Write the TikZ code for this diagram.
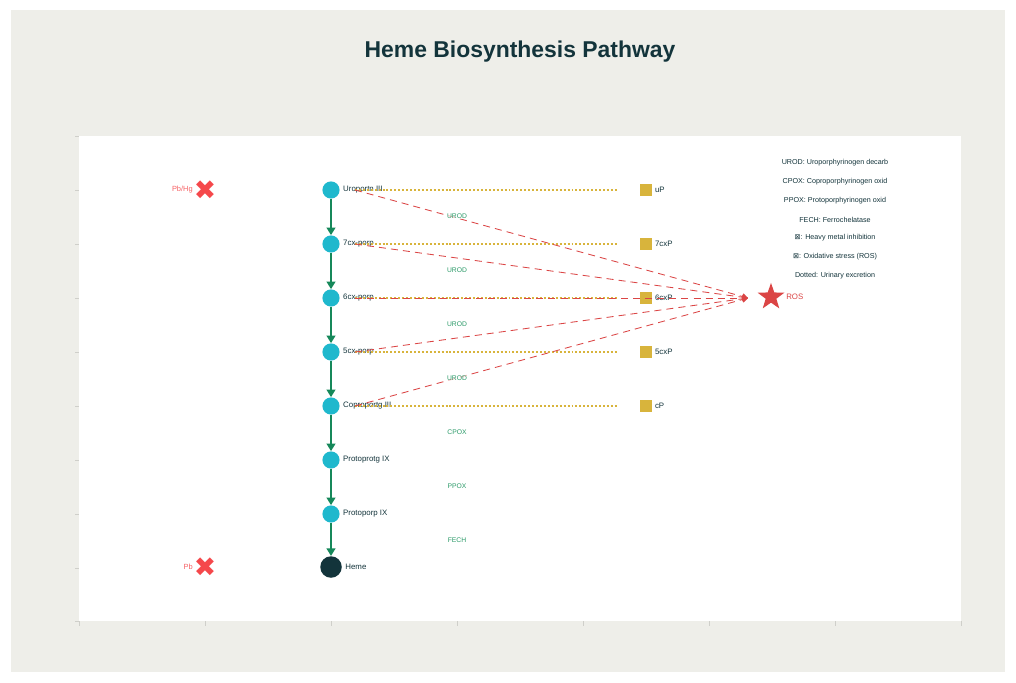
\documentclass[tikz,border=0pt]{standalone}
\usepackage{fontspec}
\setmainfont{Liberation Sans}
\newfontfamily\symfont{DejaVu Sans}
\usetikzlibrary{arrows.meta, calc, shapes.geometric}

\definecolor{inkdark}{HTML}{13343B}
\definecolor{panelgray}{HTML}{EEEEE9}
\definecolor{porcyan}{HTML}{1FB8CD}
\definecolor{stepgreen}{HTML}{16885A}
\definecolor{enzgreen}{HTML}{2A9A68}
\definecolor{excyellow}{HTML}{D8B43C}
\definecolor{rosred}{HTML}{DB4545}
\definecolor{metalred}{HTML}{F5484B}
\definecolor{tickgray}{HTML}{CFCFCA}

\tikzset{
  porph/.style={circle, fill=porcyan, minimum size=12.2pt, inner sep=0pt},
  hemenode/.style={circle, fill=inkdark, minimum size=15.3pt, inner sep=0pt},
  porphlabel/.style={text=inkdark, font=\fontsize{5.6}{6}\selectfont, inner sep=0pt},
  enzyme/.style={text=enzgreen, font=\fontsize{4.8}{5}\selectfont, inner sep=0.6pt,
    fill=white, fill opacity=0.6, text opacity=1},
  stepline/.style={draw=stepgreen, line width=1.5pt, -{Triangle[length=5.4pt,width=6.2pt]}},
  excretion/.style={draw=excyellow, line width=1pt, dash pattern=on 1.4pt off 1.4pt},
  rosline/.style={draw=rosred, line width=0.6pt, dash pattern=on 5pt off 3.6pt,
    -{Triangle[length=4pt,width=4.4pt]}},
  urinebox/.style={rectangle, fill=excyellow, minimum size=9.2pt, inner sep=0pt},
  inhibit/.style={text=metalred, font=\symfont\fontsize{19}{19}\selectfont, inner sep=0pt},
  metallabel/.style={text=metalred!85, font=\fontsize{5.3}{6}\selectfont, inner sep=0pt},
  legendtext/.style={text=inkdark, font=\fontsize{5.1}{6}\selectfont, inner sep=0pt},
}

\begin{document}
\begin{tikzpicture}[x=0.25mm, y=-0.25mm]
    % Page, outer panel and plot area
    \fill[white] (0,0) rectangle (1016,682);
    \fill[panelgray] (11,10) rectangle (1005,672);
    \fill[white] (79,136) rectangle (961,621);

    % Axis ticks
    \draw[tickgray, line width=0.6pt]
      (75,136) -- (79,136) (75,190) -- (79,190) (75,244) -- (79,244)
      (75,298) -- (79,298) (75,352) -- (79,352) (75,406) -- (79,406)
      (75,460) -- (79,460) (75,514) -- (79,514) (75,568) -- (79,568)
      (75,621) -- (79,621)
      (79,621) -- (79,626) (205,621) -- (205,626) (331,621) -- (331,626)
      (457,621) -- (457,626) (583,621) -- (583,626) (709,621) -- (709,626)
      (835,621) -- (835,626) (961,621) -- (961,626);

    % Title
    \node[text=inkdark, font=\bfseries\fontsize{16.3}{18}\selectfont] (title) at (520,52)
      {Heme Biosynthesis Pathway};

    % Pathway intermediates
    \node[porph, label={[porphlabel, label distance=2.2pt]right:Uroportn III}] (uro) at (331,190) {};
    \node[porph, label={[porphlabel, label distance=2.2pt]right:7cx-porp}] (c7) at (331,244) {};
    \node[porph, label={[porphlabel, label distance=2.2pt]right:6cx-porp}] (c6) at (331,298) {};
    \node[porph, label={[porphlabel, label distance=2.2pt]right:5cx-porp}] (c5) at (331,352) {};
    \node[porph, label={[porphlabel, label distance=2.2pt]right:Coproportg III}] (copro) at (331,406) {};
    \node[porph, label={[porphlabel, label distance=2.2pt]right:Protoprotg IX}] (protog) at (331,460) {};
    \node[porph, label={[porphlabel, label distance=2.2pt]right:Protoporp IX}] (protop) at (331,514) {};
    \node[hemenode, label={[porphlabel, label distance=2.2pt]right:Heme}] (heme) at (331,567) {};

    % Enzymatic steps
    \draw[stepline] (uro) -- (c7);
    \draw[stepline] (c7) -- (c6);
    \draw[stepline] (c6) -- (c5);
    \draw[stepline] (c5) -- (copro);
    \draw[stepline] (copro) -- (protog);
    \draw[stepline] (protog) -- (protop);
    \draw[stepline] (protop) -- (heme);

    % Urinary porphyrins
    \node[urinebox, label={[porphlabel, label distance=1.4pt]right:uP}] (up) at (646,190) {};
    \node[urinebox, label={[porphlabel, label distance=1.4pt]right:7cxP}] (p7) at (646,244) {};
    \node[urinebox, label={[porphlabel, label distance=1.4pt]right:6cxP}] (p6) at (646,298) {};
    \node[urinebox, label={[porphlabel, label distance=1.4pt]right:5cxP}] (p5) at (646,352) {};
    \node[urinebox, label={[porphlabel, label distance=1.4pt]right:cP}] (cp) at (646,406) {};

    % Excretion (dotted)
    \draw[excretion] ($(uro)+(24,0)$) -- ($(up)+(-28,0)$);
    \draw[excretion] ($(c7)+(24,0)$) -- ($(p7)+(-28,0)$);
    \draw[excretion] ($(c6)+(24,0)$) -- ($(p6)+(-28,0)$);
    \draw[excretion] ($(c5)+(24,0)$) -- ($(p5)+(-28,0)$);
    \draw[excretion] ($(copro)+(24,0)$) -- ($(cp)+(-28,0)$);

    % Oxidative stress
    \node[star, star points=5, star point ratio=2.5, fill=rosred, minimum size=20pt,
      inner sep=0pt] (ros) at (771,297) {};
    \node[text=rosred, font=\fontsize{5.6}{6}\selectfont, anchor=west, inner sep=0pt]
      (rost) at (786,297) {ROS};
    \coordinate (rosin) at (748,298);
    \draw[rosline] ($(uro)+(24,0)$) -- (rosin);
    \draw[rosline] ($(c7)+(24,0)$) -- (rosin);
    \draw[rosline] ($(c6)+(24,0)$) -- (rosin);
    \draw[rosline] ($(c5)+(24,0)$) -- (rosin);
    \draw[rosline] ($(copro)+(24,0)$) -- (rosin);

    % Enzyme labels
    \node[enzyme] (e1) at (457,216) {UROD};
    \node[enzyme] (e2) at (457,270) {UROD};
    \node[enzyme] (e3) at (457,324) {UROD};
    \node[enzyme] (e4) at (457,378) {UROD};
    \node[enzyme] (e5) at (457,432) {CPOX};
    \node[enzyme] (e6) at (457,486) {PPOX};
    \node[enzyme] (e7) at (457,540) {FECH};

    % Heavy metal inhibition
    \node[inhibit] (pbhg) at (205,190) {✖};
    \node[metallabel, anchor=east] (pbhgt) at (193,190) {Pb/Hg};
    \node[inhibit] (pb) at (205,567) {✖};
    \node[metallabel, anchor=east] (pbt) at (193,567) {Pb};

    % Legend
    \node[legendtext] (lg1) at (835,163) {UROD: Uroporphyrinogen decarb};
    \node[legendtext] (lg2) at (835,182) {CPOX: Coproporphyrinogen oxid};
    \node[legendtext] (lg3) at (835,201) {PPOX: Protoporphyrinogen oxid};
    \node[legendtext] (lg4) at (835,220) {FECH: Ferrochelatase};
    \node[legendtext] (lg5) at (835,238) {{\symfont ⊠}: Heavy metal inhibition};
    \node[legendtext] (lg6) at (835,257) {{\symfont ⊠}: Oxidative stress (ROS)};
    \node[legendtext] (lg7) at (835,276) {Dotted: Urinary excretion};
\end{tikzpicture}
\end{document}
